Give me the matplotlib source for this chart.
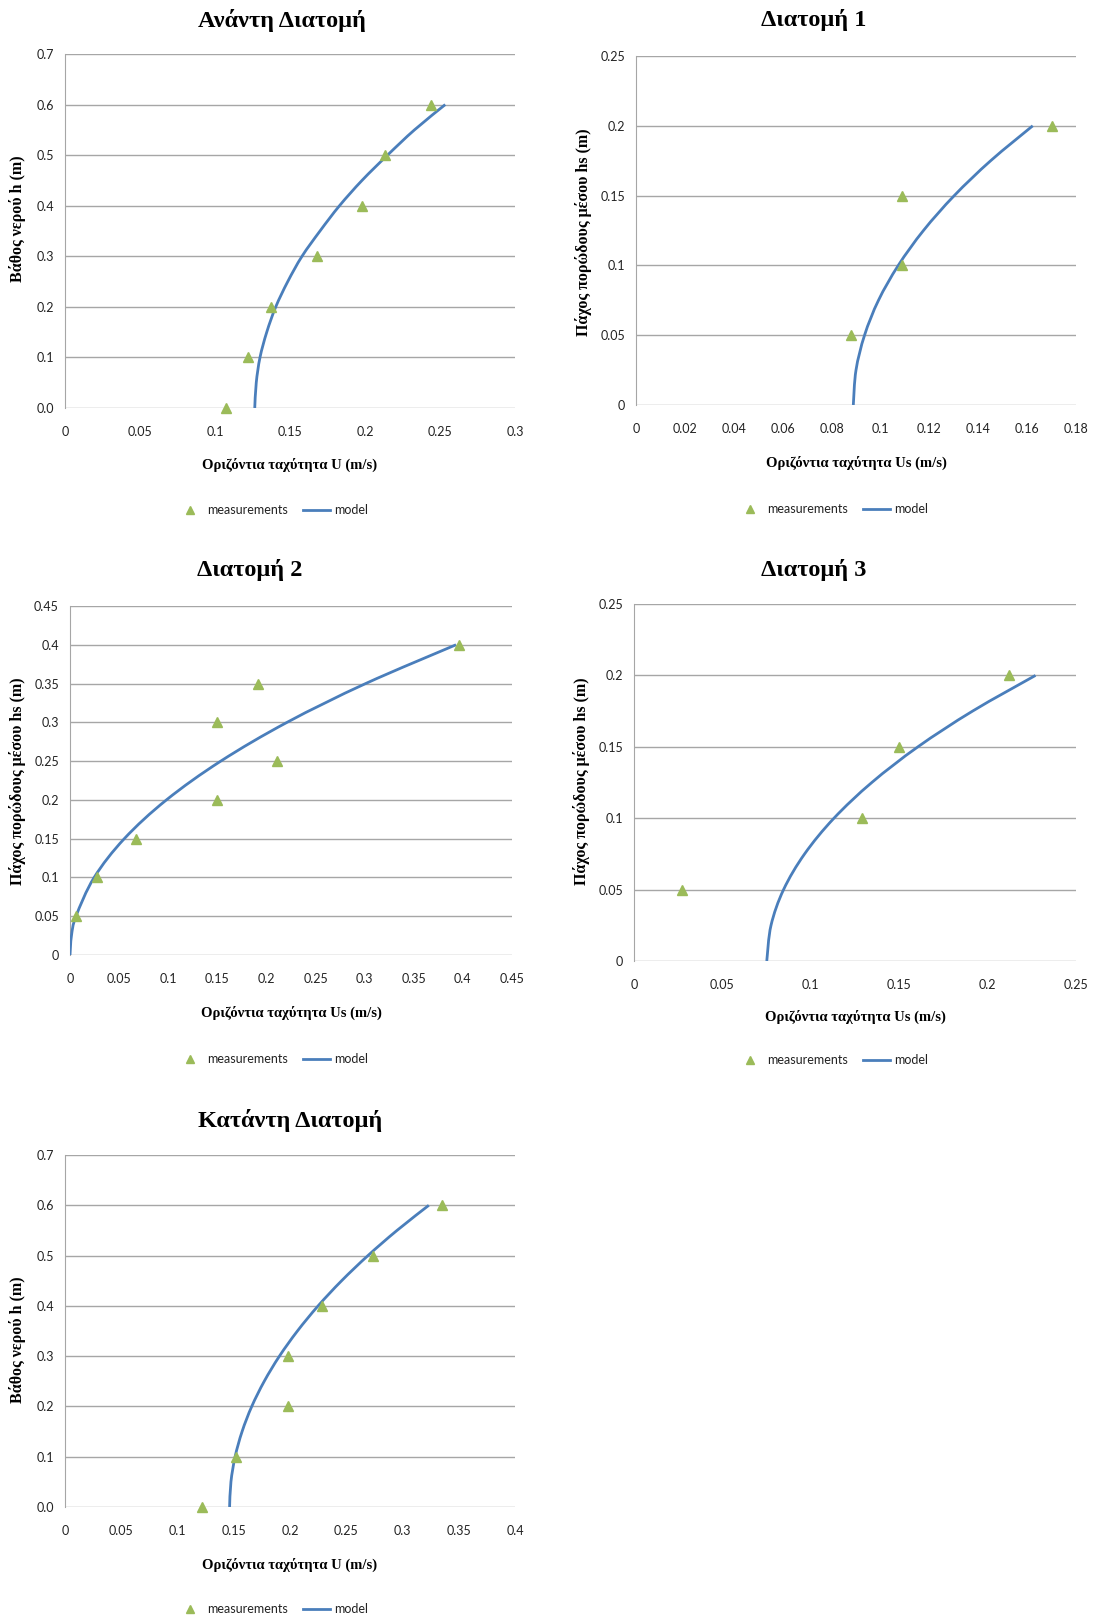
import numpy as np
import matplotlib
matplotlib.use("Agg")
import matplotlib.pyplot as plt
from matplotlib.path import Path
from matplotlib.patches import PathPatch
from matplotlib.lines import Line2D
from matplotlib.ticker import FuncFormatter, MultipleLocator

# ---- data ----
# Ανάντη Διατομή
up_meas_u = [0.107, 0.122, 0.137, 0.168, 0.198, 0.213, 0.244]
up_meas_h = [0.0, 0.1, 0.2, 0.3, 0.4, 0.5, 0.6]
up_mod_u = [0.1265, 0.1275, 0.130, 0.1345, 0.1405, 0.1485, 0.158, 0.170, 0.183, 0.198, 0.215, 0.233, 0.2535]
up_mod_h = [0.0, 0.05, 0.1, 0.15, 0.2, 0.25, 0.3, 0.35, 0.4, 0.45, 0.5, 0.55, 0.6]

# Διατομή 1
s1_meas_u = [0.088, 0.109, 0.109, 0.170]
s1_meas_h = [0.05, 0.1, 0.15, 0.2]
s1_mod_u = [0.0889, 0.0900, 0.0935, 0.0992, 0.1073, 0.1176, 0.1302, 0.1451, 0.1623]
s1_mod_h = [0.0, 0.025, 0.05, 0.075, 0.1, 0.125, 0.15, 0.175, 0.2]

# Διατομή 2
s2_meas_u = [0.006, 0.027, 0.067, 0.150, 0.211, 0.150, 0.191, 0.396]
s2_meas_h = [0.05, 0.1, 0.15, 0.2, 0.25, 0.3, 0.35, 0.4]
s2_mod_u = [0.0, 0.0015, 0.0061, 0.0246, 0.0553, 0.0982, 0.1535, 0.221, 0.301, 0.393]
s2_mod_h = [0.0, 0.025, 0.05, 0.1, 0.15, 0.2, 0.25, 0.3, 0.35, 0.4]

# Διατομή 3
s3_meas_u = [0.027, 0.129, 0.150, 0.212]
s3_meas_h = [0.05, 0.1, 0.15, 0.2]
s3_mod_u = [0.0751, 0.0775, 0.0846, 0.0965, 0.1131, 0.1345, 0.1606, 0.1915, 0.2271]
s3_mod_h = [0.0, 0.025, 0.05, 0.075, 0.1, 0.125, 0.15, 0.175, 0.2]

# Κατάντη Διατομή
dn_meas_u = [0.122, 0.152, 0.198, 0.198, 0.228, 0.274, 0.335]
dn_meas_h = [0.0, 0.1, 0.2, 0.3, 0.4, 0.5, 0.6]
dn_mod_u = [0.1463, 0.1475, 0.1512, 0.1574, 0.1660, 0.1771, 0.1906, 0.2066, 0.2250, 0.2459, 0.2693, 0.2951, 0.3234]
dn_mod_h = [0.0, 0.05, 0.1, 0.15, 0.2, 0.25, 0.3, 0.35, 0.4, 0.45, 0.5, 0.55, 0.6]

GREEN = "#9BBB59"
BLUE = "#4A7EBB"
GRID = "#A6A6A6"
SERIF = ["Liberation Serif", "DejaVu Serif"]
SANS = ["Lato", "DejaVu Sans"]

W, H = 1094, 1618
fig = plt.figure(figsize=(W / 100, H / 100), dpi=100)


def px_axes(l, r, t, b):
    return fig.add_axes([l / W, 1 - b / H, (r - l) / W, (b - t) / H])


def smooth_path(xs, ys):
    # Excel-like smoothed line: Catmull-Rom through the points as cubic Beziers
    p = np.column_stack([xs, ys])
    n = len(p)
    verts = [p[0]]
    codes = [Path.MOVETO]
    for i in range(n - 1):
        p0 = p[i - 1] if i > 0 else p[i]
        p3 = p[i + 2] if i + 2 < n else p[i + 1]
        c1 = p[i] + (p[i + 1] - p0) / 6
        c2 = p[i + 1] - (p3 - p[i]) / 6
        verts += [c1, c2, p[i + 1]]
        codes += [Path.CURVE4] * 3
    return Path(verts, codes)


def panel(box, title, title_xy, xlabel, ylabel, ylab_xy, xlab_y, leg_xy,
          mu, mh, su, sh, xmax, xstep, ymax, ystep, yfmt):
    ax = px_axes(*box)
    ax.set_xlim(0, xmax)
    ax.set_ylim(0, ymax)
    ax.xaxis.set_major_locator(MultipleLocator(xstep))
    ax.yaxis.set_major_locator(MultipleLocator(ystep))
    ax.xaxis.set_major_formatter(FuncFormatter(lambda v, p: "%g" % round(v, 4)))
    ax.yaxis.set_major_formatter(FuncFormatter(lambda v, p: yfmt % round(v, 4)))
    ax.grid(axis="y", color=GRID, lw=1.0)
    ax.set_axisbelow(True)
    for s in ("top", "right", "bottom"):
        ax.spines[s].set_visible(False)
    ax.spines["left"].set_color(GRID)
    ax.tick_params(length=0, labelsize=9, labelcolor="#222222")
    ax.tick_params(axis="x", pad=13)
    ax.tick_params(axis="y", pad=8)
    for lab in ax.get_xticklabels() + ax.get_yticklabels():
        lab.set_family(SANS)

    ax.add_patch(PathPatch(smooth_path(su, sh), fill=False, edgecolor=BLUE,
                           lw=2.0, capstyle="butt", zorder=3))
    ax.plot(mu, mh, linestyle="none", marker="^", markersize=7.5,
            color=GREEN, zorder=4, clip_on=False)

    fig.text(title_xy[0] / W, 1 - title_xy[1] / H, title, ha="center", va="center",
             family=SERIF, fontweight="bold", fontsize=17.5)
    fig.text((box[0] + box[1]) / 2 / W, 1 - xlab_y / H, xlabel, ha="center", va="center",
             family=SERIF, fontweight="bold", fontsize=10.5)
    fig.text(ylab_xy[0] / W, 1 - ylab_xy[1] / H, ylabel, ha="center", va="center",
             rotation=90, family=SERIF, fontweight="bold", fontsize=11.5)

    handles = [Line2D([], [], linestyle="none", marker="^", markersize=6, color=GREEN),
               Line2D([], [], color=BLUE, lw=2.0)]
    leg = ax.legend(handles, ["measurements", "model"], loc="center",
                    bbox_to_anchor=(leg_xy[0] / W, 1 - leg_xy[1] / H),
                    bbox_transform=fig.transFigure, ncol=2, frameon=False,
                    prop={"family": SANS, "size": 9}, handlelength=2.2,
                    handletextpad=0.3, columnspacing=1.2)
    for t in leg.get_texts():
        t.set_color("#222222")
    return ax


lab_h = "Βάθος νερού h (m)"
lab_hs = "Πάχος πορώδους μέσου hs (m)"
lab_u = "Οριζόντια ταχύτητα U (m/s)"
lab_us = "Οριζόντια ταχύτητα Us (m/s)"

panel((65, 515, 54, 408), "Ανάντη Διατομή", (282, 20), lab_u, lab_h, (18, 219), 465, (272, 510),
      up_meas_u, up_meas_h, up_mod_u, up_mod_h, 0.3, 0.05, 0.7, 0.1, "%.1f")
panel((636, 1076, 56, 405), "Διατομή 1", (814, 20), lab_us, lab_hs, (584, 232), 463, (832, 509),
      s1_meas_u, s1_meas_h, s1_mod_u, s1_mod_h, 0.18, 0.02, 0.25, 0.05, "%g")
panel((70, 512, 606, 955), "Διατομή 2", (250, 570), lab_us, lab_hs, (18, 781), 1013, (272, 1059),
      s2_meas_u, s2_meas_h, s2_mod_u, s2_mod_h, 0.45, 0.05, 0.45, 0.05, "%g")
panel((634, 1076, 604, 961), "Διατομή 3", (814, 570), lab_us, lab_hs, (582, 781), 1017, (832, 1060),
      s3_meas_u, s3_meas_h, s3_mod_u, s3_mod_h, 0.25, 0.05, 0.25, 0.05, "%g")
panel((65, 515, 1155, 1507), "Κατάντη Διατομή", (290, 1120), lab_u, lab_h, (18, 1340), 1565, (272, 1609),
      dn_meas_u, dn_meas_h, dn_mod_u, dn_mod_h, 0.4, 0.05, 0.7, 0.1, "%.1f")

fig.savefig("out.png", dpi=100)
